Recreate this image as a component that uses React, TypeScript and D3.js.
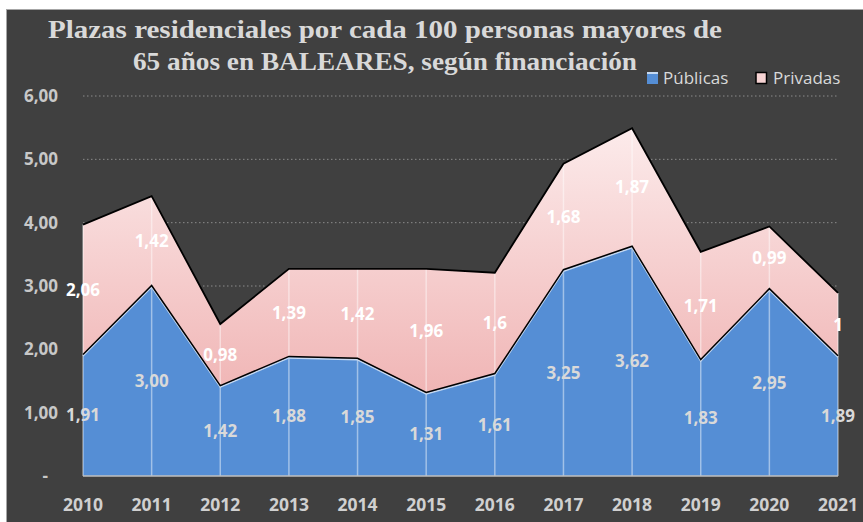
import React from "react";
import * as d3 from "d3";

const years = ["2010", "2011", "2012", "2013", "2014", "2015", "2016", "2017", "2018", "2019", "2020", "2021"];
const publicas = [1.91, 3.0, 1.42, 1.88, 1.85, 1.31, 1.61, 3.25, 3.62, 1.83, 2.95, 1.89];
const privadas = [2.06, 1.42, 0.98, 1.39, 1.42, 1.96, 1.6, 1.68, 1.87, 1.71, 0.99, 1];
const privadasLabels = ["2,06", "1,42", "0,98", "1,39", "1,42", "1,96", "1,6", "1,68", "1,87", "1,71", "0,99", "1"];
const yTicks = [0, 1, 2, 3, 4, 5, 6];
const titleLines = ["Plazas residenciales por cada 100 personas mayores de", "65 años en BALEARES, según financiación"];
const seriesNames = ["Públicas", "Privadas"];

const W = 863;
const H = 522;

export default function App() {
  const x = d3.scalePoint<string>().domain(years).range([83, 838]);
  const y = d3.scaleLinear().domain([0, 6]).range([476, 96]);

  const rows = years.map((yr, i) => ({
    yr,
    pub: publicas[i],
    tot: publicas[i] + privadas[i],
  }));

  const areaPub = d3
    .area<any>()
    .x((d) => x(d.yr)!)
    .y0(y(0))
    .y1((d) => y(d.pub));
  const areaPriv = d3
    .area<any>()
    .x((d) => x(d.yr)!)
    .y0((d) => y(d.pub))
    .y1((d) => y(d.tot));
  const linePub = d3
    .line<any>()
    .x((d) => x(d.yr)!)
    .y((d) => y(d.pub));
  const lineTot = d3
    .line<any>()
    .x((d) => x(d.yr)!)
    .y((d) => y(d.tot));

  const fmt = (v: number) => (v === 0 ? "-" : v.toFixed(2).replace(".", ","));
  const sans = "'Open Sans', 'Noto Sans', sans-serif";

  return (
    <div style={{ position: "fixed", left: 0, top: 0, width: W, height: H, background: "#fff" }}>
      <svg width={W} height={H} style={{ display: "block" }}>
        <defs>
          <linearGradient id="pinkGrad" gradientUnits="userSpaceOnUse" x1="0" x2="0" y1={y(5.5)} y2={y(1.3)}>
            <stop offset="0" stopColor="#fcebeb" />
            <stop offset="1" stopColor="#f0b5b5" />
          </linearGradient>
        </defs>
        <rect x={0} y={0} width={W} height={H} fill="#ffffff" />
        <rect x={6.5} y={9.5} width={W + 10} height={H + 10} fill="#404040" stroke="#a6a6a6" strokeWidth={1} />

        {/* title */}
        {titleLines.map((t, i) => (
          <text
            key={i}
            x={385}
            y={37.5 + i * 32.5}
            textAnchor="middle"
            fill="#d9d9d9"
            fontFamily="'Liberation Serif', serif"
            fontWeight="bold"
            fontSize={26}
            textLength={i === 0 ? 674 : 504}
            lengthAdjust="spacingAndGlyphs"
          >
            {t}
          </text>
        ))}

        {/* legend */}
        <g fontFamily={sans} fontSize={17} fill="#d9d9d9">
          <rect x={647} y={72} width={11} height={12} fill="#558ed5" />
          <rect x={647} y={72} width={11} height={2} fill="#c6d9f1" />
          <text x={663} y={84}>{seriesNames[0]}</text>
          <rect x={756} y={72.5} width={10.5} height={11} fill="#f6d3d3" stroke="#000" strokeWidth={1.5} />
          <text x={773} y={84}>{seriesNames[1]}</text>
        </g>

        {/* gridlines */}
        {yTicks.filter((t) => t > 0).map((t) => (
          <line key={t} x1={83} x2={838} y1={y(t)} y2={y(t)} stroke="#8a8a8a" strokeWidth={1} strokeDasharray="1.5 2.5" />
        ))}

        {/* y tick labels */}
        {yTicks.map((t) => (
          <text
            key={t}
            x={t === 0 ? 48 : 58}
            y={y(t)}
            dy="0.35em"
            textAnchor="end"
            fill="#c8c8c8"
            fontFamily={sans}
            fontWeight="bold"
            fontSize={17}
          >
            {fmt(t)}
          </text>
        ))}

        {/* areas */}
        <path d={areaPub(rows)!} fill="#558ed5" />
        <path d={areaPriv(rows)!} fill="url(#pinkGrad)" />

        {/* drop lines */}
        {rows.map((d) => (
          <line
            key={d.yr}
            x1={x(d.yr)!}
            x2={x(d.yr)!}
            y1={y(0)}
            y2={y(d.tot)}
            stroke="#ffffff"
            strokeOpacity={0.45}
            strokeWidth={1.5}
          />
        ))}

        {/* outlines */}
        <path d={linePub(rows)!} fill="none" stroke="#c6d9f1" strokeWidth={1.5} transform="translate(0,1)" />
        <path d={linePub(rows)!} fill="none" stroke="#000" strokeWidth={1.5} transform="translate(0,-0.5)" />
        <path d={lineTot(rows)!} fill="none" stroke="#000" strokeWidth={1.8} />

        {/* axis line */}
        <line x1={83} x2={838} y1={y(0)} y2={y(0)} stroke="#bfbfbf" strokeWidth={1.5} />

        {/* x labels */}
        {years.map((yr) => (
          <text
            key={yr}
            x={x(yr)!}
            y={511}
            textAnchor="middle"
            fill="#d0d0d0"
            fontFamily={sans}
            fontWeight="bold"
            fontSize={17.5}
          >
            {yr}
          </text>
        ))}

        {/* data labels */}
        {rows.map((d, i) => (
          <g key={d.yr} fontFamily={sans} fontWeight="bold" fontSize={17} textAnchor="middle">
            <text x={x(d.yr)!} y={y(d.pub / 2)} dy="0.35em" fill="#d9d9d9">
              {fmt(publicas[i])}
            </text>
            <text x={x(d.yr)!} y={y(d.pub + privadas[i] / 2)} dy="0.35em" fill="#ffffff">
              {privadasLabels[i]}
            </text>
          </g>
        ))}
      </svg>
    </div>
  );
}
